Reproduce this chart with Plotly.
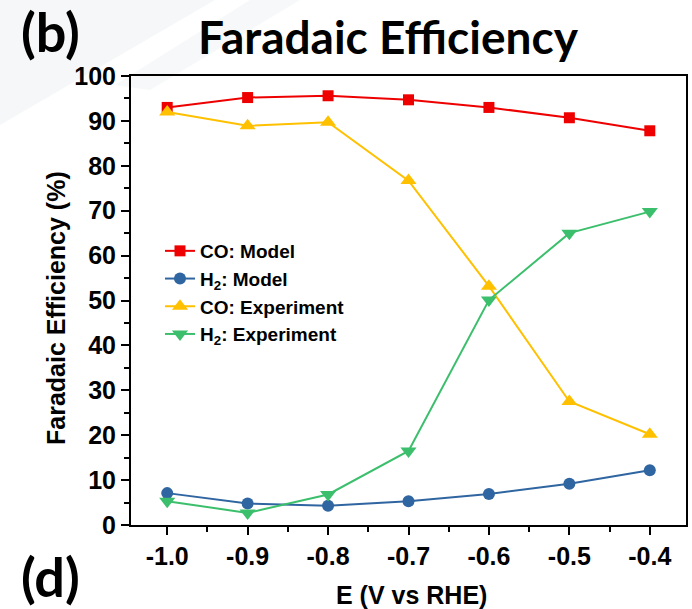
import plotly.graph_objects as go

# Applied potential (V vs RHE)
potential = [-1.0, -0.9, -0.8, -0.7, -0.6, -0.5, -0.4]

# Faradaic efficiency (%) for each product
co_model = [93.0, 95.2, 95.6, 94.7, 93.0, 90.7, 87.8]
h2_model = [7.1, 4.8, 4.3, 5.3, 6.9, 9.2, 12.2]
co_experiment = [92.0, 88.9, 89.7, 76.7, 53.2, 27.5, 20.2]
h2_experiment = [5.3, 2.7, 6.8, 16.5, 50.1, 65.0, 69.8]

x_ticks = [-1.0, -0.9, -0.8, -0.7, -0.6, -0.5, -0.4]
x_tick_text = ["-1.0", "-0.9", "-0.8", "-0.7", "-0.6", "-0.5", "-0.4"]

series = [
    ("CO: Model", co_model, "#EE0000", "square", 11),
    ("H<sub>2</sub>: Model", h2_model, "#2F65A0", "circle", 12),
    ("CO: Experiment", co_experiment, "#FFC000", "triangle-up", 14),
    ("H<sub>2</sub>: Experiment", h2_experiment, "#3CBF6C", "triangle-down", 14),
]

W, H = 692, 609
L, R, T, B = 131, 6, 76, 84
PW, PH = W - L - R, H - T - B


def px_x(x):
    return (x - L) / PW


def px_y(y):
    return (H - B - y) / PH


fig = go.Figure()
for name, values, color, symbol, size in series:
    fig.add_trace(go.Scatter(
        x=potential, y=values, name=name, mode="lines+markers",
        line=dict(color=color, width=2),
        marker=dict(symbol=symbol, size=size, color=color),
    ))

sans = "Liberation Sans, Arial, sans-serif"
label_font = dict(family=sans, size=25, weight="bold", color="black")

fig.update_layout(
    width=W, height=H,
    margin=dict(l=L, r=R, t=T, b=B),
    paper_bgcolor="white", plot_bgcolor="rgba(0,0,0,0)",
    font=dict(family=sans, size=19, color="black"),
    showlegend=True,
    legend=dict(
        x=px_x(160), y=px_y(232), xanchor="left", yanchor="top",
        bgcolor="rgba(0,0,0,0)",
        font=dict(family=sans, size=19, color="black", weight="bold"),
        tracegroupgap=0,
    ),
    xaxis=dict(
        range=[-1.045, -0.355], automargin=False,
        tickvals=x_ticks, ticktext=x_tick_text,
        ticks="outside", ticklen=8, tickwidth=1.5, tickcolor="black",
        minor=dict(dtick=0.05, tick0=-1.0, ticks="outside", ticklen=5, tickwidth=1.5, tickcolor="black"),
        showline=True, linecolor="black", linewidth=2, mirror=True,
        showgrid=False, zeroline=False,
        tickfont=dict(family=sans, size=25, weight="bold"),
    ),
    yaxis=dict(
        range=[0, 100], automargin=False,
        tick0=0, dtick=10,
        ticks="outside", ticklen=8, tickwidth=1.5, tickcolor="black",
        minor=dict(dtick=5, ticks="outside", ticklen=5, tickwidth=1.5, tickcolor="black"),
        showline=True, linecolor="black", linewidth=2, mirror=True,
        showgrid=False, zeroline=False,
        tickfont=dict(family=sans, size=25, weight="bold"),
    ),
    annotations=[
        dict(text="Faradaic Efficiency", x=px_x(388), y=px_y(37), xref="paper", yref="paper",
             xanchor="center", yanchor="middle", showarrow=False,
             font=dict(family="Lato, sans-serif", size=46, weight="bold", color="black")),
        dict(text="(b)", x=px_x(19), y=px_y(-3), xref="paper", yref="paper",
             xanchor="left", yanchor="top", showarrow=False,
             font=dict(family="Lato, sans-serif", size=54, weight="bold", color="black")),
        dict(text="(d)", x=px_x(19), y=px_y(611), xref="paper", yref="paper",
             xanchor="left", yanchor="bottom", showarrow=False,
             font=dict(family="Lato, sans-serif", size=54, weight="bold", color="black")),
        # axis titles
        dict(text="E (V vs RHE)", x=px_x(411), y=px_y(595), xref="paper", yref="paper",
             xanchor="center", yanchor="middle", showarrow=False, font=label_font),
        dict(text="Faradaic Efficiency (%)", x=px_x(56), y=px_y(308), xref="paper", yref="paper",
             xanchor="center", yanchor="middle", textangle=-90, showarrow=False, font=label_font),
    ],
    shapes=[
        # faint diagonal streaks of the slide background, top-left
        dict(type="path", xref="paper", yref="paper", layer="below", line=dict(width=0),
             fillcolor="rgba(238,241,244,0.6)",
             path=f"M {px_x(0)},{px_y(0)} L {px_x(215)},{px_y(0)} L {px_x(0)},{px_y(125)} Z"),
        dict(type="path", xref="paper", yref="paper", layer="below", line=dict(width=0),
             fillcolor="rgba(238,241,244,0.5)",
             path=f"M {px_x(250)},{px_y(0)} L {px_x(300)},{px_y(0)} L {px_x(150)},{px_y(90)} L {px_x(115)},{px_y(85)} Z"),
    ],
)

fig.write_html("out.html")
